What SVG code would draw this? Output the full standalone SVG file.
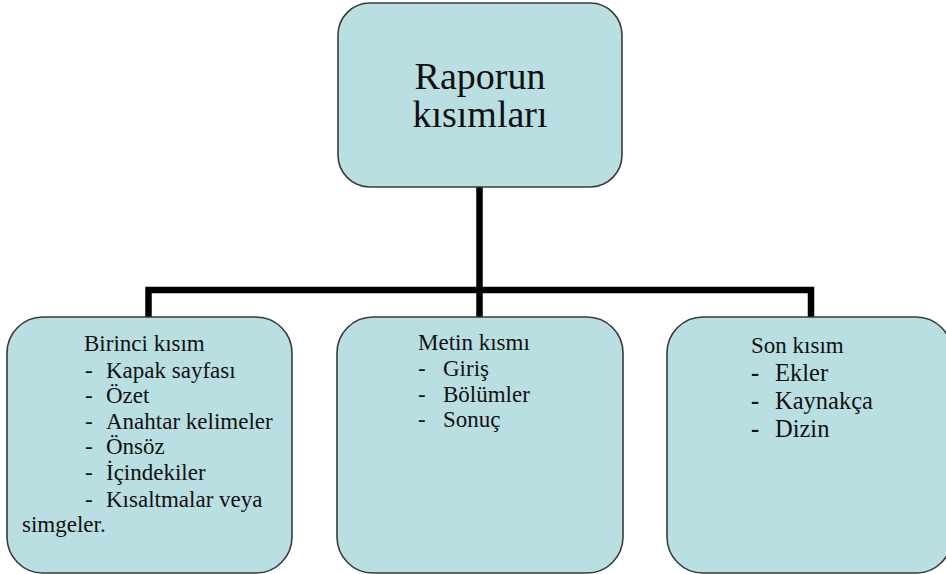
<svg xmlns="http://www.w3.org/2000/svg" width="946" height="574" viewBox="0 0 946 574">
<style>
.box{fill:#b9dfe2;stroke:#3a3a3a;stroke-width:1.6}
.t{fill:#111;font-family:'Liberation Serif','DejaVu Serif','Noto Serif','Times New Roman',Times,serif}
.big{font-size:38px}
.sm{font-size:23px}
.md{font-size:24.5px}
.conn{fill:none;stroke:#000;stroke-width:6.5;stroke-linejoin:miter}
</style>
<rect width="946" height="574" fill="#fff"/>
<g id="connectors">
<path class="conn" d="M148.5,317 V290 H811 V317"/>
<path class="conn" d="M479.5,187 V317"/>
</g>
<g id="root">
<rect class="box" x="338" y="3" width="284" height="184" rx="32" ry="32"/>
<text class="t big" x="480" y="89" text-anchor="middle" style="font-family:'Liberation Serif',serif">Raporun</text>
<text class="t big" x="480" y="127" text-anchor="middle" style="font-family:'Liberation Serif',serif">kısımları</text>
</g>
<g id="birinci">
<rect class="box" x="7" y="317" width="285" height="256" rx="36" ry="36"/>
<text class="t sm" x="84" y="351">Birinci kısım</text>
<text class="t sm" x="85" y="378">-</text><text class="t sm" x="106" y="378">Kapak sayfası</text>
<text class="t sm" x="85" y="403">-</text><text class="t sm" x="106" y="403">Özet</text>
<text class="t sm" x="85" y="429">-</text><text class="t sm" x="106" y="429">Anahtar kelimeler</text>
<text class="t sm" x="85" y="454">-</text><text class="t sm" x="106" y="454">Önsöz</text>
<text class="t sm" x="85" y="480">-</text><text class="t sm" x="106" y="480">İçindekiler</text>
<text class="t sm" x="85" y="507">-</text><text class="t sm" x="106" y="507">Kısaltmalar veya</text>
<text class="t sm" x="22" y="532">simgeler.</text>
</g>
<g id="metin">
<rect class="box" x="337" y="317" width="286" height="256" rx="36" ry="36"/>
<text class="t sm" x="418" y="350">Metin kısmı</text>
<text class="t sm" x="418" y="376">-</text><text class="t sm" x="443" y="376">Giriş</text>
<text class="t sm" x="418" y="402">-</text><text class="t sm" x="443" y="402">Bölümler</text>
<text class="t sm" x="418" y="427">-</text><text class="t sm" x="443" y="427">Sonuç</text>
</g>
<g id="son">
<rect class="box" x="667" y="317" width="285" height="256" rx="36" ry="36"/>
<text class="t sm" x="751" y="353">Son kısım</text>
<text class="t md" x="751" y="381" font-weight="bold">-</text><text class="t md" x="775" y="381">Ekler</text>
<text class="t md" x="751" y="409" font-weight="bold">-</text><text class="t md" x="775" y="409">Kaynakça</text>
<text class="t md" x="751" y="437" font-weight="bold">-</text><text class="t md" x="775" y="437">Dizin</text>
</g>
</svg>
